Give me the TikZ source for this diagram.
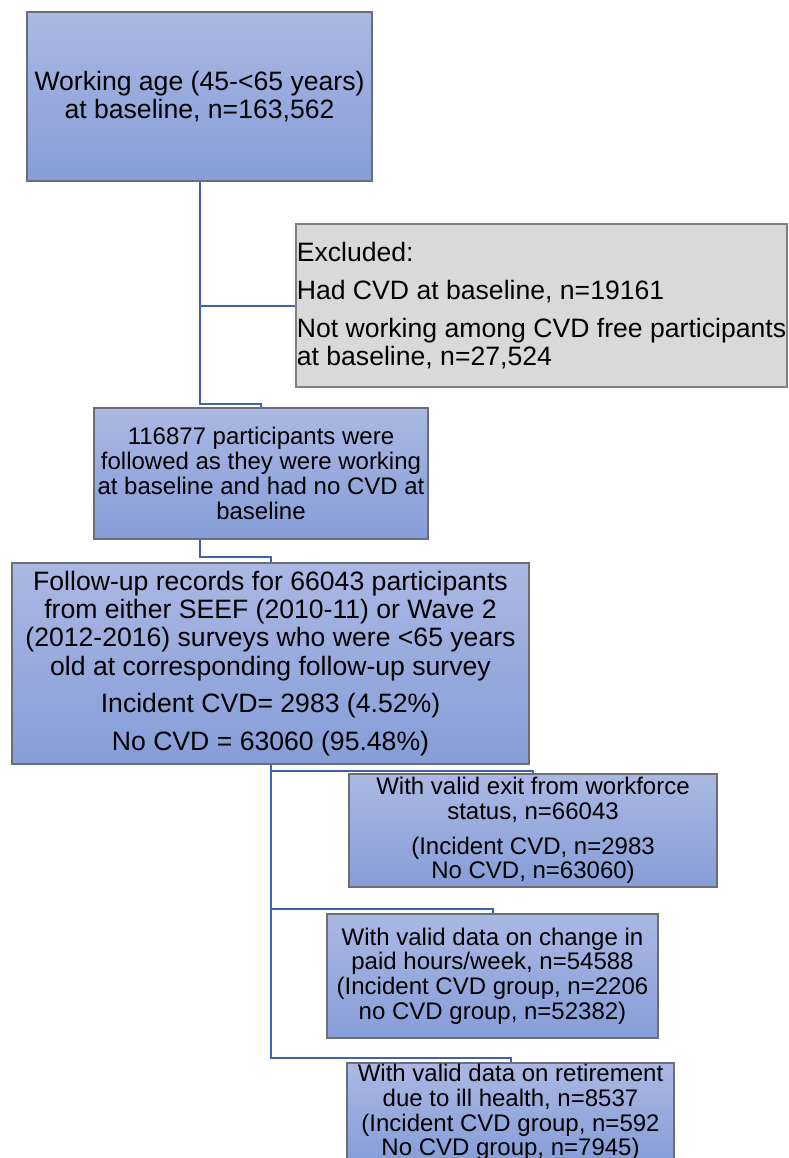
\documentclass[tikz,border=0pt]{standalone}
\usepackage{fontspec}
\setmainfont{Liberation Sans}
\definecolor{boxtop}{RGB}{170,184,227}
\definecolor{boxbot}{RGB}{134,157,216}
\definecolor{boxborder}{RGB}{108,110,118}
\definecolor{xfill}{RGB}{217,217,217}
\definecolor{xborder}{RGB}{128,128,128}
\definecolor{linkblue}{RGB}{62,99,176}
\begin{document}
\begin{tikzpicture}[x=1pt,y=-1pt,
  bbox/.style={draw=boxborder, line width=1.2pt, top color=boxtop, bottom color=boxbot, inner sep=0pt, align=center, text=black},
  xbox/.style={draw=xborder, line width=1.2pt, fill=xfill, inner sep=0pt, align=left, text=black},
  big/.style={font=\fontsize{26.6}{28.3}\selectfont},
  small/.style={font=\fontsize{24}{24.8}\selectfont},
  conn/.style={draw=linkblue, line width=2pt}]
\useasboundingbox (0,0) rectangle (788,1158);

\node[bbox,big,minimum width=345pt,minimum height=169pt] (b1) at (199.5,96.5)
  {Working age (45-<65 years)\\at baseline, n=163,562};
\node[xbox,big,minimum width=491pt,minimum height=163pt] (ex) at (541.5,305.5)
  {Excluded:\\[9.5pt]Had CVD at baseline, n=19161\\[9.5pt]Not working among CVD free participants\\at baseline, n=27,524};
\node[bbox,small,minimum width=334pt,minimum height=131pt] (b3) at (261,473.5)
  {116877 participants were\\followed as they were working\\at baseline and had no CVD at\\baseline};
\node[bbox,big,minimum width=517pt,minimum height=201pt] (b4) at (270.5,663.5)
  {Follow-up records for 66043 participants\\from either SEEF (2010-11) or Wave 2\\(2012-2016) surveys who were <65 years\\old at corresponding follow-up survey\\[9.5pt]Incident CVD= 2983 (4.52\%)\\[9.5pt]No CVD = 63060 (95.48\%)};
\node[bbox,small,minimum width=368pt,minimum height=113pt] (b5) at (533,830.5)
  {With valid exit from workforce\\status, n=66043\\[10pt](Incident CVD, n=2983\\No CVD, n=63060)};
\node[bbox,small,minimum width=331pt,minimum height=124pt] (b6) at (492.5,976)
  {With valid data on change in\\paid hours/week, n=54588\\(Incident CVD group, n=2206\\no CVD group, n=52382)};
\node[bbox,small,minimum width=327pt,minimum height=99pt] (b7) at (510.5,1112.5)
  {With valid data on retirement\\due to ill health, n=8537\\(Incident CVD group, n=592\\No CVD group, n=7945)};

\coordinate (j1) at (199.5,404);
\coordinate (j2) at (199.5,557);
\coordinate (j3) at (270.5,771);
\coordinate (j4) at (270.5,909);
\coordinate (j5) at (270.5,1058);

\draw[conn] (b1.south) -- (j1) -| (b3.north);
\draw[conn] (b1.south |- ex.west) -- (ex.west);
\draw[conn] (b3.south -| j2) -- (j2) -| (b4.north);
\draw[conn] (b4.south) -- (j5) -| (b7.north);
\draw[conn] (j3) -| (b5.north);
\draw[conn] (j4) -| (b6.north);
\end{tikzpicture}
\end{document}
